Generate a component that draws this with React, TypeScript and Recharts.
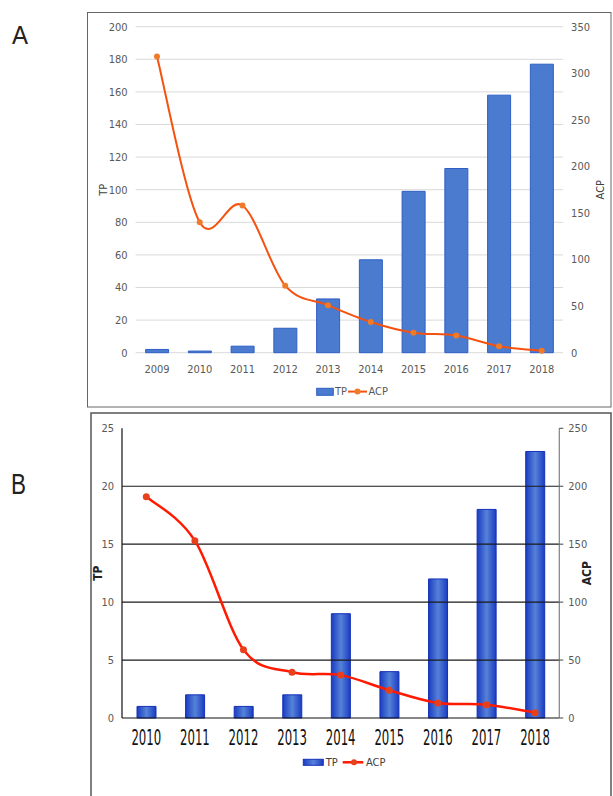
import React from 'react';
import { ComposedChart, Bar, Line, XAxis, YAxis, CartesianGrid, ReferenceLine } from 'recharts';

// ---------- Panel A data ----------
const yearsA = ['2009', '2010', '2011', '2012', '2013', '2014', '2015', '2016', '2017', '2018'];
const tpA = [2, 1, 4, 15, 33, 57, 99, 113, 158, 177];
const acpA = [318, 140, 158, 72, 51, 33, 21.5, 18.5, 7, 2];
const tpTicksA = [0, 20, 40, 60, 80, 100, 120, 140, 160, 180, 200];
const acpTicksA = [0, 50, 100, 150, 200, 250, 300, 350];

// ---------- Panel B data ----------
const yearsB = ['2010', '2011', '2012', '2013', '2014', '2015', '2016', '2017', '2018'];
const tpB = [1, 2, 1, 2, 9, 4, 12, 18, 23];
const acpB = [191, 153, 59, 39.5, 37, 24, 13, 11.5, 4.5];
const tpTicksB = [0, 5, 10, 15, 20, 25];
const acpTicksB = [0, 50, 100, 150, 200, 250];
const gridB = [5, 10, 15, 20];

const dataA = yearsA.map((year, i) => ({ year, TP: tpA[i], ACP: acpA[i] }));
const dataB = yearsB.map((year, i) => ({ year, TP: tpB[i], ACP: acpB[i] }));

const NARROW = "'Liberation Sans Narrow', 'DejaVu Sans Condensed', 'Liberation Sans', sans-serif";

// Excel-like smoothed line (Catmull-Rom style Bezier)
function excelCurve(context: any) {
  let pts: [number, number][] = [];
  return {
    areaStart() {},
    areaEnd() {},
    lineStart() {
      pts = [];
    },
    lineEnd() {
      const n = pts.length;
      if (n === 0) return;
      context.moveTo(pts[0][0], pts[0][1]);
      for (let i = 0; i < n - 1; i++) {
        const p0 = pts[i - 1] || pts[i];
        const p1 = pts[i];
        const p2 = pts[i + 1];
        const p3 = pts[i + 2] || p2;
        const c1x = p1[0] + (p2[0] - p0[0]) / 6;
        const c1y = p1[1] + (p2[1] - p0[1]) / 6;
        const c2x = p2[0] - (p3[0] - p1[0]) / 6;
        const c2y = p2[1] - (p3[1] - p1[1]) / 6;
        context.bezierCurveTo(c1x, c1y, c2x, c2y, p2[0], p2[1]);
      }
    },
    point(x: number, y: number) {
      pts.push([+x, +y]);
    },
  };
}

const tickA = { fontSize: 11, fill: '#595959', fontFamily: NARROW };
const tickB = { fontSize: 11, fill: '#595959', fontFamily: NARROW };

const BTick = (props: any) => {
  const { x, y, payload } = props;
  return (
    <g transform={`translate(${x},${y}) scale(1,1.6)`}>
      <text x={0} y={16.9} textAnchor="middle" fontSize={13} fontFamily={NARROW} fill="#111">
        {payload.value}
      </text>
    </g>
  );
};

export default function App() {
  return (
    <div
      style={{
        position: 'absolute',
        left: 0,
        top: 0,
        width: 613,
        height: 796,
        overflow: 'hidden',
        background: '#fff',
      }}
    >
      {/* background: panel frames and letters */}
      <svg width={613} height={796} style={{ position: 'absolute', left: 0, top: 0 }}>
        <rect x={87.5} y={12.5} width={523.5} height={394.5} fill="none" stroke="#666" strokeWidth={1} />
        <rect x={91} y={413} width={520} height={400} fill="none" stroke="#555" strokeWidth={1.5} />
        <text x={12} y={44} fontSize={26} fontFamily="'Liberation Sans', sans-serif" fill="#222" textLength={16} lengthAdjust="spacingAndGlyphs">
          A
        </text>
        <text x={11} y={494} fontSize={29} fontFamily="'Liberation Sans', sans-serif" fill="#222" textLength={15} lengthAdjust="spacingAndGlyphs">
          B
        </text>
      </svg>

      {/* Panel A */}
      <div style={{ position: 'absolute', left: 88, top: 13 }}>
        <ComposedChart
          width={523}
          height={394}
          data={dataA}
          margin={{ top: 13.7, right: 7.9, bottom: 24.3, left: 7.6 }}
        >
          <CartesianGrid yAxisId="left" vertical={false} stroke="#d9d9d9" />
          <XAxis
            dataKey="year"
            tickLine={false}
            axisLine={false}
            height={30}
            tickMargin={6.5}
            interval={0}
            tick={tickA}
          />
          <YAxis
            yAxisId="left"
            domain={[0, 200]}
            ticks={tpTicksA}
            width={40}
            tickLine={false}
            axisLine={false}
            tick={tickA}
            label={{
              value: 'TP',
              angle: -90,
              position: 'insideLeft',
              offset: 8,
              style: { textAnchor: 'middle', fontSize: 11, fill: '#404040', fontFamily: NARROW },
            }}
          />
          <YAxis
            yAxisId="right"
            orientation="right"
            domain={[0, 350]}
            ticks={acpTicksA}
            width={40}
            tickLine={false}
            axisLine={false}
            tick={tickA}
            label={{
              value: 'ACP',
              angle: -90,
              position: 'insideRight',
              offset: 3,
              style: { textAnchor: 'middle', fontSize: 11, fill: '#404040', fontFamily: NARROW },
            }}
          />
          <Bar
            yAxisId="left"
            dataKey="TP"
            fill="#4a7bcf"
            stroke="#2e5fc4"
            strokeWidth={1}
            barSize={23}
            isAnimationActive={false}
          />
          <Line
            yAxisId="right"
            dataKey="ACP"
            type={excelCurve as any}
            stroke="#f5520f"
            strokeWidth={2}
            dot={{ r: 3, fill: '#f07a28', stroke: '#f07a28', strokeWidth: 0 }}
            activeDot={false}
            isAnimationActive={false}
          />
        </ComposedChart>
      </div>

      {/* Panel B */}
      <div style={{ position: 'absolute', left: 91, top: 413 }}>
        <ComposedChart
          width={520}
          height={383}
          data={dataB}
          margin={{ top: 15.3, right: 11.7, bottom: 48, left: 6 }}
        >
          <defs>
            <linearGradient id="barGradB" x1="0" y1="0" x2="1" y2="0">
              <stop offset="0%" stopColor="#1a3cc2" />
              <stop offset="50%" stopColor="#5682d8" />
              <stop offset="100%" stopColor="#1a3cc2" />
            </linearGradient>
          </defs>
          <XAxis
            dataKey="year"
            tickLine={false}
            axisLine={{ stroke: '#111', strokeWidth: 1.2 }}
            tickSize={0}
            tickMargin={0}
            height={30}
            interval={0}
            tick={<BTick />}
          />
          <YAxis
            yAxisId="left"
            domain={[0, 25]}
            ticks={tpTicksB}
            width={25}
            tickLine={false}
            axisLine={{ stroke: '#111', strokeWidth: 1.2 }}
            tick={tickB}
            label={{
              value: 'TP',
              angle: -90,
              position: 'insideLeft',
              offset: 1,
              style: { textAnchor: 'middle', fontSize: 12, fontWeight: 'bold', fill: '#222', fontFamily: NARROW },
            }}
          />
          <YAxis
            yAxisId="right"
            orientation="right"
            domain={[0, 250]}
            ticks={acpTicksB}
            width={40}
            tickLine={{ stroke: '#444' }}
            tickSize={4}
            tickMargin={5}
            axisLine={{ stroke: '#808080', strokeWidth: 1.2 }}
            tick={tickB}
            label={{
              value: 'ACP',
              angle: -90,
              position: 'insideRight',
              offset: 12.6,
              style: { textAnchor: 'middle', fontSize: 12, fontWeight: 'bold', fill: '#222', fontFamily: NARROW },
            }}
          />
          {gridB.map((v) => (
            <ReferenceLine key={v} yAxisId="left" y={v} stroke="#1a1a1a" strokeWidth={1.2} />
          ))}
          <Bar
            yAxisId="left"
            dataKey="TP"
            fill="url(#barGradB)"
            stroke="#1530b8"
            strokeWidth={1}
            barSize={19}
            isAnimationActive={false}
          />
          <Line
            yAxisId="right"
            dataKey="ACP"
            type={excelCurve as any}
            stroke="#ff1a00"
            strokeWidth={2.5}
            dot={{ r: 3.5, fill: '#e8401c', stroke: '#e8401c', strokeWidth: 0 }}
            activeDot={false}
            isAnimationActive={false}
          />
        </ComposedChart>
      </div>

      {/* Legends */}
      <svg width={613} height={796} style={{ position: 'absolute', left: 0, top: 0, pointerEvents: 'none' }}>
        <defs>
          <linearGradient id="legGradB" x1="0" y1="0" x2="1" y2="0">
            <stop offset="0%" stopColor="#1a3cc2" />
            <stop offset="50%" stopColor="#5682d8" />
            <stop offset="100%" stopColor="#1a3cc2" />
          </linearGradient>
        </defs>
        {/* A legend */}
        <rect x={316.7} y={388.3} width={16.6} height={7} fill="#4a7bcf" stroke="#2e5fc4" strokeWidth={1} />
        <text x={335} y={395} fontSize={11} fontFamily={NARROW} fill="#595959">TP</text>
        <line x1={348} y1={391.6} x2={367} y2={391.6} stroke="#f5520f" strokeWidth={2} />
        <circle cx={357.5} cy={391.6} r={3} fill="#f07a28" />
        <text x={368.5} y={395} fontSize={11} fontFamily={NARROW} fill="#595959">ACP</text>
        {/* B legend */}
        <rect x={303.3} y={759.3} width={20} height={6} fill="url(#legGradB)" stroke="#1530b8" strokeWidth={1} />
        <text x={325.7} y={766.3} fontSize={11} fontFamily={NARROW} fill="#404040">TP</text>
        <line x1={342.7} y1={762.3} x2={363.3} y2={762.3} stroke="#ff1a00" strokeWidth={2.5} />
        <circle cx={354} cy={762.3} r={3} fill="#e8401c" />
        <text x={366} y={766.3} fontSize={11} fontFamily={NARROW} fill="#404040">ACP</text>
      </svg>
    </div>
  );
}
